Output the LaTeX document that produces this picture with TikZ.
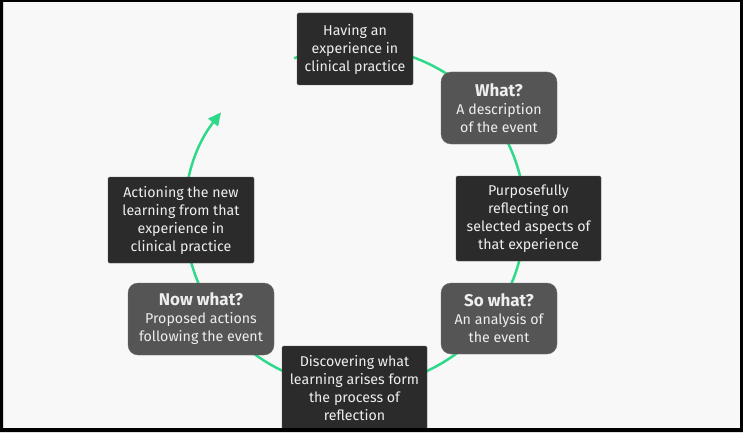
\documentclass[tikz,border=0pt]{standalone}
\usepackage{fontspec}
\setmainfont{Fira Sans}
\usetikzlibrary{arrows.meta}
\definecolor{bgc}{HTML}{F8F8F8}
\definecolor{darkbox}{HTML}{2B2B2B}
\definecolor{graybox}{HTML}{555555}
\definecolor{cyclegreen}{HTML}{2FD98A}
\definecolor{txt}{HTML}{EEEEEE}
\tikzset{
  darkstep/.style={fill=darkbox, draw=darkbox!80!white, line width=0.4pt, rounded corners=1.5pt,
    minimum width=#1, text=txt, align=center, inner sep=0pt,
    font=\fontsize{14.2}{18}\selectfont},
  graystep/.style={fill=graybox, draw=graybox!85!white, line width=0.4pt, rounded corners=10pt,
    minimum width=#1, text=txt, align=center, inner sep=0pt,
    font=\fontsize{14.2}{18}\selectfont},
  cyclearc/.style={draw=cyclegreen, line width=2.5pt, -{Triangle[length=13pt,width=12pt]}}
}
\newcommand{\ttlfont}{\fontsize{17}{19}\selectfont\bfseries}
\begin{document}
\begin{tikzpicture}[x=1pt,y=1pt]
\useasboundingbox (0,0) rectangle (743,432);
\fill[bgc] (0,0) rectangle (743,432);
\coordinate (ctr) at (355,215);
\draw[cyclearc] ([shift={(111:170)}]ctr) arc[start angle=111, end angle=-218, radius=170];
\node[darkstep=116pt, minimum height=72pt] (exp) at (355,383) {Having an\\experience in\\clinical practice};
\node[graystep=116pt, minimum height=72pt] (what) at (499,324) {{\ttlfont What?}\\A description\\of the event};
\node[darkstep=145pt, minimum height=85pt] (refl) at (528.5,213.5) {Purposefully\\reflecting on\\selected aspects of\\that experience};
\node[graystep=116pt, minimum height=71pt] (sowhat) at (499,113.5) {{\ttlfont So what?}\\An analysis of\\the event};
\node[darkstep=145pt, minimum height=85pt] (disc) at (354.5,43.5) {Discovering what\\learning arises form\\the process of\\reflection};
\node[graystep=146pt, minimum height=72pt] (nowwhat) at (201,113) {{\ttlfont Now what?}\\Proposed actions\\following the event};
\node[darkstep=146pt, minimum height=86pt] (act) at (181,212) {Actioning the new\\learning from that\\experience in\\clinical practice};
\fill[black, even odd rule] (0,0) rectangle (743,432) (3,4) rectangle (740,430);
\end{tikzpicture}
\end{document}
